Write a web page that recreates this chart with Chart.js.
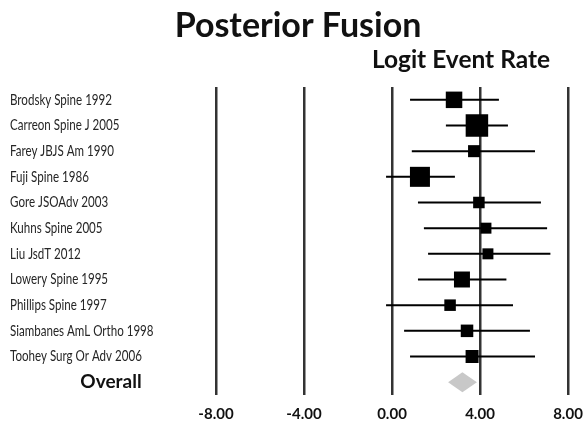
<!DOCTYPE html>
<html>
<head>
<meta charset="utf-8">
<script src="https://cdn.jsdelivr.net/npm/chart.js@4"></script>
<style>
  body { margin: 0; background: #fff; }
  #wrap { width: 583px; height: 422px; }
</style>
</head>
<body>
<div id="wrap"><canvas id="forest" width="583" height="422"></canvas></div>
<script>
const TITLE = "Posterior Fusion";
const SUBTITLE = "Logit Event Rate";
const STUDIES = [
  "Brodsky Spine 1992", "Carreon Spine J 2005", "Farey JBJS Am 1990", "Fuji Spine 1986",
  "Gore JSOAdv 2003", "Kuhns Spine 2005", "Liu JsdT 2012", "Lowery Spine 1995",
  "Phillips Spine 1997", "Siambanes AmL Ortho 1998", "Toohey Surg Or Adv 2006",
];
const EST   = [2.82, 3.86, 3.73, 1.27, 3.95, 4.27, 4.36, 3.18, 2.64, 3.41, 3.64];
const LOWER = [0.82, 2.45, 0.90, -0.27, 1.18, 1.45, 1.64, 1.18, -0.27, 0.55, 0.82];
const UPPER = [4.86, 5.27, 6.50, 2.86, 6.77, 7.05, 7.20, 5.20, 5.50, 6.27, 6.50];
const WEIGHT = [11.3, 21.0, 6.0, 16.6, 5.5, 5.0, 5.0, 10.6, 5.5, 6.5, 7.0]; // % weight -> square area
const OVERALL = { label: "Overall", est: 3.2, lower: 2.55, upper: 3.86 };
const X_TICKS = [-8, -4, 0, 4, 8];

const OV = STUDIES.length; // row index of the overall diamond

// CI whiskers as one line dataset, broken by null points
const ciData = [];
STUDIES.forEach((s, i) => {
  ciData.push({ x: LOWER[i], y: i }, { x: UPPER[i], y: i }, { x: UPPER[i], y: null });
});
const sqData = STUDIES.map((s, i) => ({ x: EST[i], y: i }));
const sqRadius = WEIGHT.map(w => 4.91 * Math.sqrt(w) / Math.SQRT2);
const dH = 0.39;
const diamondTop = [{ x: OVERALL.lower, y: OV }, { x: OVERALL.est, y: OV - dH }, { x: OVERALL.upper, y: OV }];
const diamondBot = [{ x: OVERALL.lower, y: OV }, { x: OVERALL.est, y: OV + dH }, { x: OVERALL.upper, y: OV }];

// titles, study names (source used a condensed face, so squeeze Lato) and the Overall label
const textPlugin = {
  id: "forestText",
  afterDraw(chart) {
    const ctx = chart.ctx;
    const y = chart.scales.y;
    ctx.save();
    ctx.fillStyle = "#111";
    ctx.textAlign = "center";
    ctx.textBaseline = "alphabetic";
    ctx.font = "bold 34px Lato";
    ctx.fillText(TITLE, 298, 37);
    ctx.font = "bold 24.5px Lato";
    ctx.fillText(SUBTITLE, 461, 68);
    ctx.textBaseline = "middle";
    ctx.font = "bold 19px Lato";
    ctx.fillText(OVERALL.label, 111, y.getPixelForValue(OV));

    ctx.fillStyle = "#262626";
    ctx.textAlign = "left";
    ctx.font = "15px Lato";
    const squeeze = 102 / ctx.measureText(STUDIES[0]).width;
    STUDIES.forEach((name, i) => {
      ctx.save();
      ctx.translate(10, y.getPixelForValue(i));
      ctx.scale(squeeze, 1);
      ctx.fillText(name, 0, 0);
      ctx.restore();
    });
    ctx.restore();
  },
};

new Chart(document.getElementById("forest"), {
  type: "line",
  data: {
    datasets: [
      { data: sqData, showLine: false, pointStyle: "rect", pointRadius: sqRadius, pointHoverRadius: sqRadius,
        pointBackgroundColor: "#000", pointBorderWidth: 0 },
      { data: ciData, borderColor: "#000", borderWidth: 2, pointRadius: 0, spanGaps: false, tension: 0 },
      { data: diamondTop, borderWidth: 0, pointRadius: 0, fill: "+1", backgroundColor: "#c8c8c8", borderColor: "#c8c8c8" },
      { data: diamondBot, borderWidth: 0, pointRadius: 0, fill: false, borderColor: "#c8c8c8" },
    ],
  },
  options: {
    responsive: false,
    animation: false,
    layout: { padding: { left: 10, right: 15, top: 87, bottom: 0 } },
    plugins: { legend: { display: false }, tooltip: { enabled: false } },
    scales: {
      x: {
        type: "linear", min: -8, max: 8,
        afterBuildTicks: s => { s.ticks = X_TICKS.map(v => ({ value: v })); },
        afterFit: s => { s.height = 27; s.paddingLeft = 0; s.paddingRight = 0; },
        ticks: { color: "#111", font: { family: "Lato", weight: "bold", size: 15 }, padding: 10, maxRotation: 0, autoSkip: false,
          callback: v => v.toFixed(2) },
        grid: { color: "#333", lineWidth: 2.5, drawTicks: false },
        border: { display: false },
      },
      y: {
        type: "linear", reverse: true, min: -0.5, max: OV + 0.5,
        afterFit: s => { s.width = 206; },
        ticks: { display: false },
        grid: { display: false },
        border: { display: false },
      },
    },
  },
  plugins: [textPlugin],
});
</script>
</body>
</html>
